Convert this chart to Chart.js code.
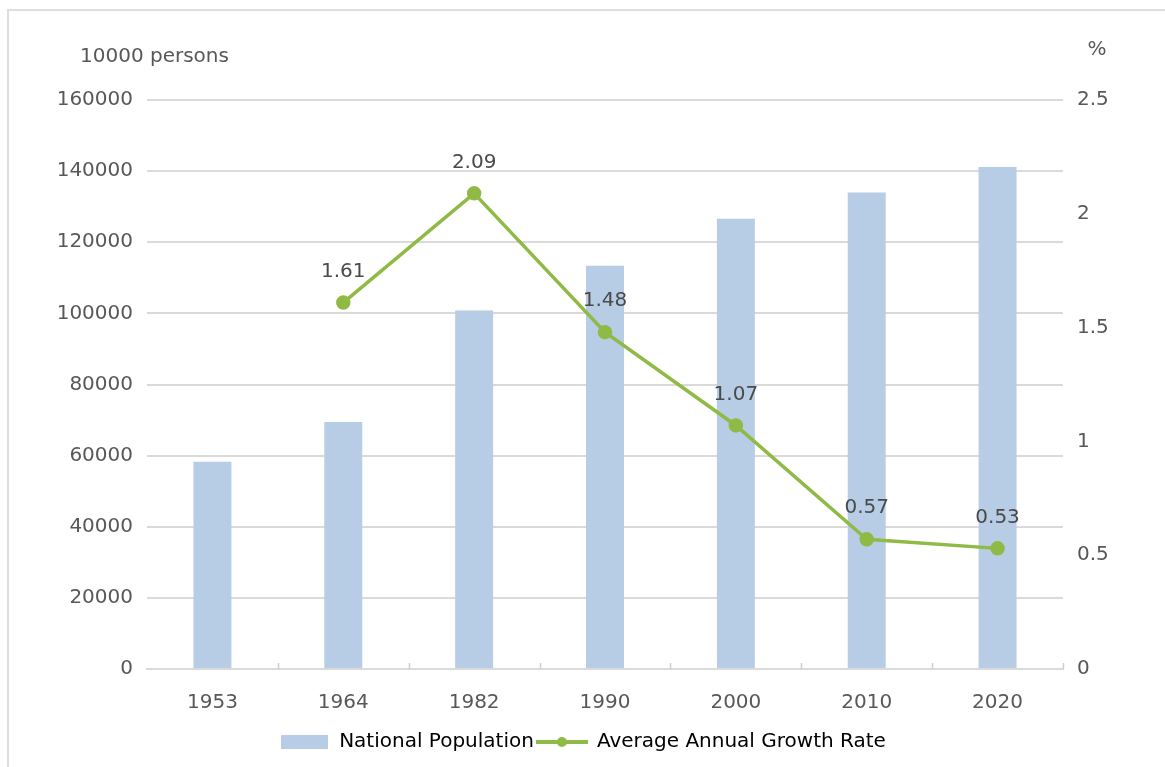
<!DOCTYPE html>
<html>
<head>
<meta charset="utf-8">
<title>National Population and Average Annual Growth Rate</title>
<script src="https://cdn.jsdelivr.net/npm/chart.js@4"></script>
<style>
  html, body { margin: 0; padding: 0; background: #fff; overflow: hidden; }
  canvas { display: block; }
</style>
</head>
<body>
<canvas id="myChart" width="1165" height="767"></canvas>
<script>
var years = ["1953", "1964", "1982", "1990", "2000", "2010", "2020"];
var population = [58260, 69458, 100818, 113368, 126583, 133972, 141178];
var growthRate = [null, 1.61, 2.09, 1.48, 1.07, 0.57, 0.53];
var leftTicks = [0, 20000, 40000, 60000, 80000, 100000, 120000, 140000, 160000];
var rightTicks = [0, 0.5, 1, 1.5, 2, 2.5];

var barColor = "#b7cce5";
var lineColor = "#8fba45";
var textColor = "#585858";
var gridColor = "#dadada";
var font = "DejaVu Sans";

// legend icons
function barIcon() {
  var c = document.createElement("canvas");
  c.width = 47; c.height = 14;
  var g = c.getContext("2d");
  g.fillStyle = barColor;
  g.fillRect(0, 0, 47, 14);
  return c;
}
function lineIcon() {
  var c = document.createElement("canvas");
  c.width = 52; c.height = 12;
  var g = c.getContext("2d");
  g.strokeStyle = lineColor;
  g.lineWidth = 4;
  g.beginPath(); g.moveTo(0, 6); g.lineTo(52, 6); g.stroke();
  g.fillStyle = lineColor;
  g.beginPath(); g.arc(26, 6, 5, 0, Math.PI * 2); g.fill();
  return c;
}

var extras = {
  id: "extras",
  beforeDraw: function (chart) {
    // light frame at left and top, as in the source image
    var ctx = chart.ctx;
    ctx.save();
    ctx.strokeStyle = "#dedede";
    ctx.lineWidth = 2;
    ctx.beginPath();
    ctx.moveTo(8, chart.height);
    ctx.lineTo(8, 10);
    ctx.lineTo(chart.width, 10);
    ctx.stroke();
    ctx.restore();
  },
  afterDatasetsDraw: function (chart) {
    var ctx = chart.ctx;
    var meta = chart.getDatasetMeta(0);
    ctx.save();
    ctx.font = "20px '" + font + "'";
    ctx.fillStyle = "#4a4a4a";
    ctx.textAlign = "center";
    ctx.textBaseline = "middle";
    meta.data.forEach(function (pt, i) {
      if (growthRate[i] == null) return;
      ctx.fillText(growthRate[i].toFixed(2), pt.x, pt.y - 31);
    });
    ctx.restore();
  },
  afterDraw: function (chart) {
    var ctx = chart.ctx;
    var a = chart.chartArea;
    ctx.save();
    // small category ticks on the x axis
    ctx.strokeStyle = "#cfcfcf";
    ctx.lineWidth = 1.5;
    var w = (a.right - a.left) / years.length;
    for (var i = 1; i <= years.length; i++) {
      var x = Math.round(a.left + i * w) + 0.5;
      ctx.beginPath(); ctx.moveTo(x, a.bottom); ctx.lineTo(x, a.bottom - 6); ctx.stroke();
    }
    // axis unit titles
    ctx.fillStyle = textColor;
    ctx.font = "20px '" + font + "'";
    ctx.textBaseline = "middle";
    ctx.textAlign = "left";
    ctx.fillText("10000 persons", 80, 57);
    ctx.textAlign = "center";
    ctx.fillText("%", 1097, 50);
    ctx.restore();
  }
};

Chart.defaults.font.family = font;
Chart.defaults.color = textColor;

new Chart("myChart", {
  type: "bar",
  data: {
    labels: years,
    datasets: [
      {
        type: "line",
        label: "Average Annual Growth Rate",
        data: growthRate,
        yAxisID: "y1",
        borderColor: lineColor,
        backgroundColor: lineColor,
        borderWidth: 3.5,
        pointRadius: 5.5,
        pointHoverRadius: 5.5,
        tension: 0,
        spanGaps: false
      },
      {
        type: "bar",
        label: "National Population",
        data: population,
        yAxisID: "y",
        backgroundColor: barColor,
        categoryPercentage: 1,
        barPercentage: 0.29
      }
    ]
  },
  options: {
    responsive: false,
    animation: false,
    layout: { padding: { top: 100, bottom: 5, left: 0, right: 0 } },
    plugins: {
      tooltip: { enabled: false },
      legend: {
        position: "bottom",
        labels: {
          usePointStyle: true,
          pointStyleWidth: 50,
          padding: 3,
          font: { size: 20 },
          color: textColor,
          generateLabels: function () {
            return [
              { text: "National Population", pointStyle: barIcon(), fillStyle: barColor, strokeStyle: barColor, lineWidth: 0, datasetIndex: 1 },
              { text: "Average Annual Growth Rate", pointStyle: lineIcon(), fillStyle: lineColor, strokeStyle: lineColor, lineWidth: 0, datasetIndex: 0 }
            ];
          }
        }
      }
    },
    scales: {
      x: {
        grid: { display: false },
        border: { color: gridColor, width: 2 },
        ticks: { padding: 14, font: { size: 20 }, color: textColor },
        afterFit: function (s) { s.height = 60; }
      },
      y: {
        position: "left",
        min: 0,
        max: 160000,
        afterBuildTicks: function (s) { s.ticks = leftTicks.map(function (v) { return { value: v }; }); },
        ticks: { padding: 14, font: { size: 20 }, color: textColor, callback: function (v) { return String(v); } },
        grid: { color: gridColor, lineWidth: 2, drawTicks: false },
        border: { display: false },
        afterFit: function (s) { s.width = 147; }
      },
      y1: {
        position: "right",
        min: 0,
        max: 2.5,
        afterBuildTicks: function (s) { s.ticks = rightTicks.map(function (v) { return { value: v }; }); },
        ticks: { padding: 14, font: { size: 20 }, color: textColor, callback: function (v) { return String(v); } },
        grid: { display: false, drawTicks: false },
        border: { display: false },
        afterFit: function (s) { s.width = 102; }
      }
    }
  },
  plugins: [extras]
});
</script>
</body>
</html>
